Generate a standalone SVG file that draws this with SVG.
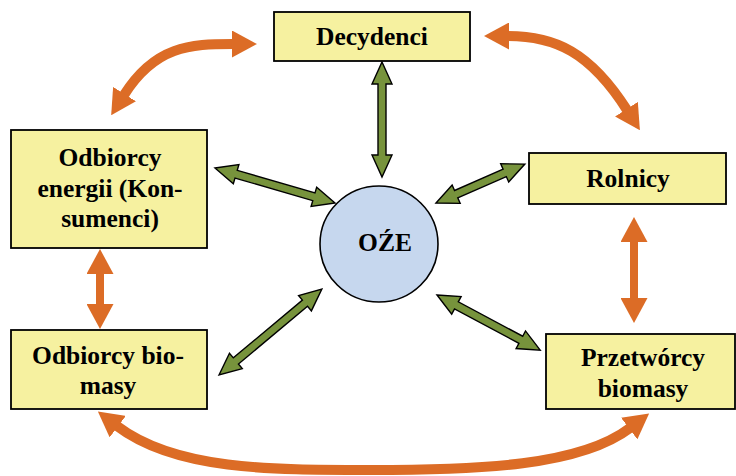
<svg xmlns="http://www.w3.org/2000/svg" width="736" height="476" viewBox="0 0 736 476">
<defs>
<style>
.box{fill:#F6F1A0;stroke:#000;stroke-width:1.8}
.lbl{font-family:"Liberation Serif","Times New Roman",serif;font-weight:bold;font-size:25.5px;fill:#000;text-anchor:middle}
.or{fill:none;stroke:#DC6C26;stroke-width:10}
.ov{fill:none;stroke:#DC6C26;stroke-width:8}
.gr{fill:#77933C;stroke:#000;stroke-width:1.4;stroke-linejoin:miter}
</style>
<marker id="oh" viewBox="0 0 25 27" refX="1" refY="13.5" markerWidth="25" markerHeight="27" markerUnits="userSpaceOnUse" orient="auto-start-reverse">
<path d="M0,0 L25,13.5 L0,27 Z" fill="#DC6C26"/>
</marker>
</defs>
<rect width="736" height="476" fill="#fff"/>
<g id="connectors">
<path class="or" d="M233,44 C190,44 155,46 124,95" marker-start="url(#oh)" marker-end="url(#oh)"/>
<path class="or" d="M508,36 C555,36 590,52 627,110" marker-start="url(#oh)" marker-end="url(#oh)"/>
<path class="or" d="M117,426 C175,470 270,470 370,470 C480,470 580,466 630,428" marker-start="url(#oh)" marker-end="url(#oh)"/>
<path class="ov" d="M100,273 L100,305" marker-start="url(#oh)" marker-end="url(#oh)"/>
<path class="ov" d="M634,241 L634,299" marker-start="url(#oh)" marker-end="url(#oh)"/>
<polygon class="gr" transform="translate(382,62) rotate(90)" points="0,0 22,-10 22,-4 93,-4 93,-10 115,0 93,10 93,4 22,4 22,10"/>
<polygon class="gr" transform="translate(215,168) rotate(16.26)" points="0,0 22,-10 22,-4 103,-4 103,-10 125,0 103,10 103,4 22,4 22,10"/>
<polygon class="gr" transform="translate(436,203) rotate(-23.66)" points="0,0 22,-10 22,-4 75,-4 75,-10 97,0 75,10 75,4 22,4 22,10"/>
<polygon class="gr" transform="translate(219,375) rotate(-39.86)" points="0,0 22,-10 22,-4 112,-4 112,-10 134,0 112,10 112,4 22,4 22,10"/>
<polygon class="gr" transform="translate(437,295) rotate(28.1)" points="0,0 22,-10 22,-4 95,-4 95,-10 117,0 95,10 95,4 22,4 22,10"/>
</g>
<g id="decydenci">
<rect class="box" x="274" y="12" width="196" height="49"/>
<text class="lbl" x="372" y="45">Decydenci</text>
</g>
<g id="odbiorcy-energii">
<rect class="box" x="11" y="130" width="196" height="118"/>
<text class="lbl" x="110" y="166">Odbiorcy</text>
<text class="lbl" x="110" y="197">energii (Kon-</text>
<text class="lbl" x="110" y="227">sumenci)</text>
</g>
<g id="rolnicy">
<rect class="box" x="529" y="153" width="197" height="51"/>
<text class="lbl" x="628" y="187">Rolnicy</text>
</g>
<g id="odbiorcy-biomasy">
<rect class="box" x="11" y="330" width="196" height="79"/>
<text class="lbl" x="108" y="364">Odbiorcy bio-</text>
<text class="lbl" x="108" y="394">masy</text>
</g>
<g id="przetworcy">
<rect class="box" x="546" y="334" width="189" height="75"/>
<text class="lbl" x="643" y="366">Przetwórcy</text>
<text class="lbl" x="643" y="397">biomasy</text>
</g>
<g id="oze">
<ellipse cx="379" cy="244" rx="59" ry="58" fill="#C6D7EE" stroke="#000" stroke-width="1.6"/>
<text class="lbl" x="385" y="251">OŹE</text>
</g>
</svg>
